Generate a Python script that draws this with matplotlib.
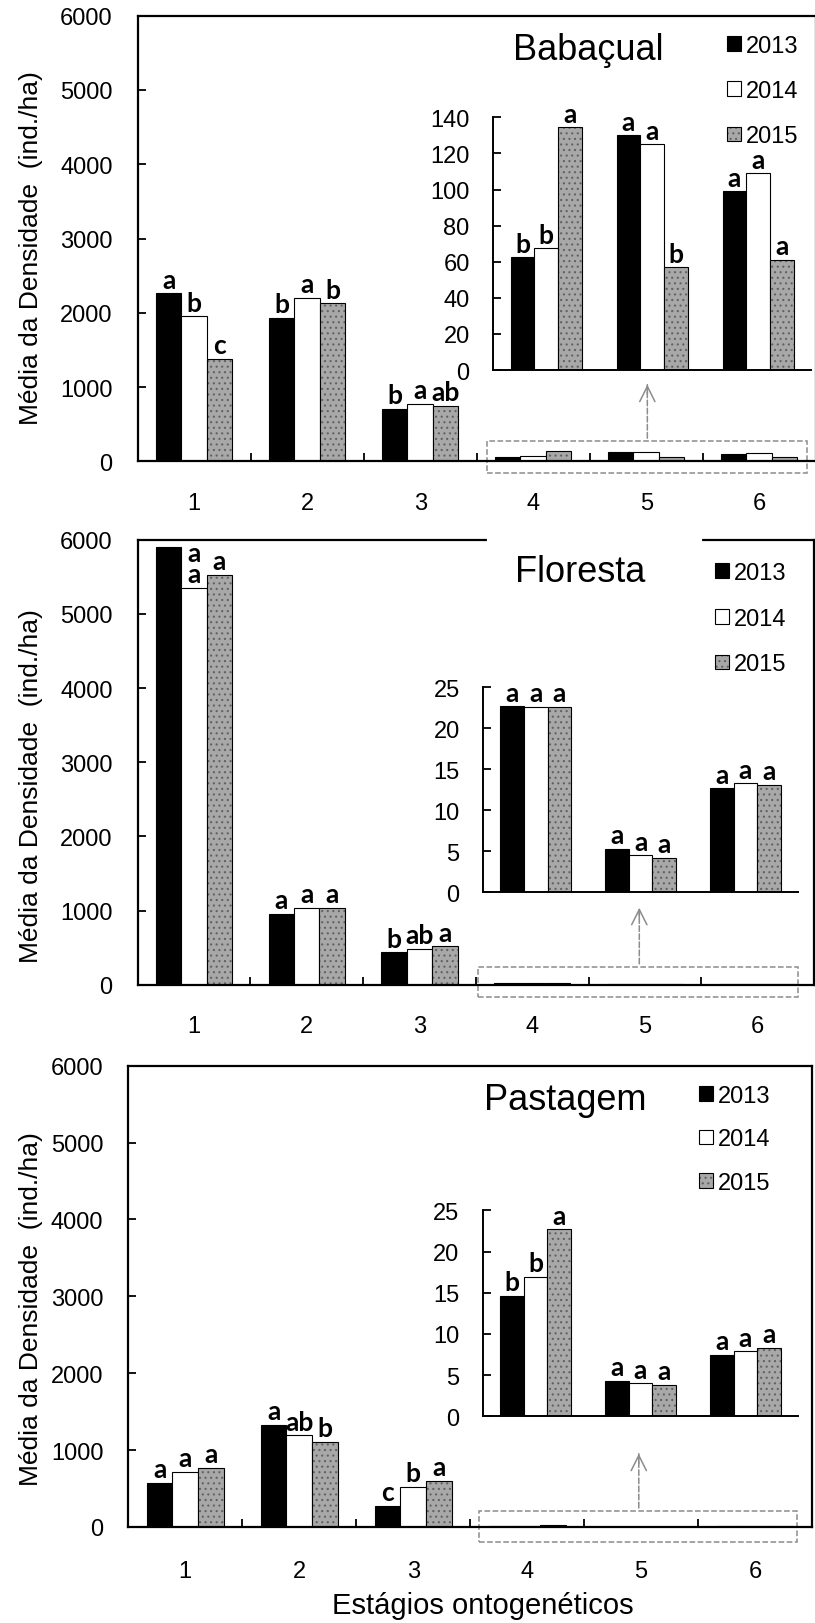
import numpy as np
import matplotlib
matplotlib.use('Agg')
import matplotlib.pyplot as plt
from matplotlib.legend_handler import HandlerTuple

plt.rcParams['font.family'] = ['Liberation Sans', 'DejaVu Sans']
plt.rcParams['hatch.linewidth'] = 0.8

# dados (densidade media, ind./ha)
estagios = ['1', '2', '3', '4', '5', '6']
anos = ['2013', '2014', '2015']

bab_2013 = [2260, 1935, 705, 62.5, 130, 99]
bab_2014 = [1955, 2200, 775, 67.5, 125, 109]
bab_2015 = [1380, 2130, 750, 134.5, 57, 61]
bab_let_2013 = ['a', 'b', 'b', 'b', 'a', 'a']
bab_let_2014 = ['b', 'a', 'a', 'b', 'a', 'a']
bab_let_2015 = ['c', 'b', 'ab', 'a', 'b', 'a']

flo_2013 = [5900, 960, 437, 22.7, 5.3, 12.7]
flo_2014 = [5350, 1035, 482, 22.6, 4.5, 13.3]
flo_2015 = [5530, 1035, 518, 22.6, 4.2, 13.1]
flo_let_2013 = ['a', 'a', 'b', 'a', 'a', 'a']
flo_let_2014 = ['a', 'a', 'ab', 'a', 'a', 'a']
flo_let_2015 = ['a', 'a', 'a', 'a', 'a', 'a']

pas_2013 = [575, 1326, 277, 14.6, 4.3, 7.5]
pas_2014 = [717, 1194, 520, 16.9, 4.0, 7.9]
pas_2015 = [772, 1105, 598, 22.7, 3.8, 8.3]
pas_let_2013 = ['a', 'a', 'c', 'b', 'a', 'a']
pas_let_2014 = ['a', 'ab', 'b', 'b', 'a', 'a']
pas_let_2015 = ['a', 'b', 'a', 'a', 'a', 'a']

W, H = 815, 1624
fig = plt.figure(figsize=(W / 100, H / 100), dpi=100)


def rect(l, t, r, b):
    return [l / W, 1 - b / H, (r - l) / W, (b - t) / H]


LW = 0.8
BW = 0.225
CINZA = '#a8a8a8'
FS = 17


def barras(ax, xs, v13, v14, v15):
    b1 = ax.bar(xs - BW, v13, BW, color='black', edgecolor='black', lw=LW)
    b2 = ax.bar(xs, v14, BW, color='white', edgecolor='black', lw=LW)
    b3a = ax.bar(xs + BW, v15, BW, color=CINZA, edgecolor='#626262', hatch='...', lw=0)
    b3b = ax.bar(xs + BW, v15, BW, fill=False, edgecolor='black', lw=LW)
    return b1, b2, (b3a, b3b)


def letras(ax, xs, vals, lets, desloc=None):
    for k, (v, l) in enumerate(zip(vals, lets)):
        for j in range(3):
            x = xs[k] + (j - 1) * BW
            dy = 4
            if desloc is not None and desloc[0] == (k, j):
                x += desloc[1] * BW
                dy = desloc[2]
            ax.annotate(l[j], (x, v[j]), xytext=(0, dy), textcoords='offset points',
                        ha='center', va='baseline', fontsize=19,
                        family=['Lato', 'DejaVu Sans'], fontweight='bold', clip_on=False)


def painel(main_px, ins_px, ymax_ins, ystep_ins, v13, v14, v15, l13, l14, l15,
           titulo, tit_px, leg_px, leg_sp, box, seta, ylab_y, xpad, desloc=None):
    ax = fig.add_axes(rect(*main_px))
    xs = np.arange(len(estagios)) + 0.5
    hs = barras(ax, xs, v13, v14, v15)
    vals = list(zip(v13[:3], v14[:3], v15[:3]))
    lets = list(zip(l13[:3], l14[:3], l15[:3]))
    letras(ax, xs[:3], vals, lets, desloc)
    ax.set_xlim(0, 6)
    ax.set_ylim(0, 6000)
    ax.set_yticks(np.arange(0, 6001, 1000))
    ax.set_xticks(np.arange(1, 6))
    ax.set_xticklabels([])
    ax.set_xticks(xs, minor=True)
    ax.set_xticklabels(estagios, minor=True)
    ax.tick_params(axis='both', which='major', direction='in', length=5.5, width=1.3,
                   labelsize=FS)
    ax.tick_params(axis='y', pad=18)
    ax.tick_params(axis='x', which='minor', length=0, labelsize=FS, pad=xpad)
    for s in ax.spines.values():
        s.set_linewidth(1.6)

    # caixa tracejada e seta
    x0, x1, y0, y1 = box
    ax.add_patch(plt.Rectangle((x0, y0), x1 - x0, y1 - y0, fill=False, ls='--',
                               ec='#8c8c8c', lw=1.1, clip_on=False))
    ax.annotate('', xy=(seta[0], seta[1]), xytext=(seta[0], y1),
                arrowprops=dict(arrowstyle='-', ls='--', color='#8c8c8c', lw=1.1))
    ax.annotate('', xy=(seta[0], seta[1]), xytext=(seta[0], seta[1] - 200),
                arrowprops=dict(arrowstyle='->,head_length=1.1,head_width=0.55',
                                color='#8c8c8c', lw=1.1))

    fig.text(tit_px[0] / W, 1 - tit_px[1] / H, titulo, fontsize=26,
             ha='center', va='center')
    ax.legend(hs, anos, loc='upper left', frameon=False, fontsize=FS,
              bbox_to_anchor=(leg_px[0] / W, 1 - (leg_px[1] - 14) / H),
              bbox_transform=fig.transFigure, borderpad=0, borderaxespad=0,
              handlelength=0.58, handleheight=0.58, handletextpad=0.2,
              labelspacing=leg_sp, handler_map={tuple: HandlerTuple(ndivide=1)})
    fig.text(31 / W, 1 - ylab_y / H, u'M\u00e9dia da Densidade  (ind./ha)',
             rotation=90, fontsize=19, ha='center', va='center')

    ai = fig.add_axes(rect(*ins_px))
    ai.patch.set_alpha(0)
    xi = np.arange(3) + 0.5
    barras(ai, xi, v13[3:], v14[3:], v15[3:])
    letras(ai, xi, list(zip(v13[3:], v14[3:], v15[3:])), list(zip(l13[3:], l14[3:], l15[3:])))
    ai.set_xlim(0, 3)
    ai.set_ylim(0, ymax_ins)
    ai.set_yticks(np.arange(0, ymax_ins + 0.1, ystep_ins))
    ai.set_xticks([])
    ai.spines['top'].set_visible(False)
    ai.spines['right'].set_visible(False)
    for s in ['left', 'bottom']:
        ai.spines[s].set_linewidth(1.4)
    ai.tick_params(axis='y', direction='in', length=5.5, width=1.3, labelsize=FS, pad=17)
    return ax


painel((137.7, 16.7, 815.7, 462.3), (493.3, 118.3, 811.3, 371), 140, 20,
       bab_2013, bab_2014, bab_2015, bab_let_2013, bab_let_2014, bab_let_2015,
       u'Baba\u00e7ual', (588, 50), (727, 50), 0.98,
       (3.09, 5.92, -152, 274), (4.51, 1070), 248, 22)

ax2 = painel((137.7, 540.7, 814, 985.7), (483.3, 688.3, 798, 893.3), 25, 5,
             flo_2013, flo_2014, flo_2015, flo_let_2013, flo_let_2014, flo_let_2015,
             'Floresta', (580, 573), (715, 577), 1.0,
             (3.02, 5.86, -160, 244), (4.45, 1075), 786, 22,
             desloc=((0, 0), 1, -10))
# trecho da borda superior apagado no original
ax2.plot([0.519, 0.831], [1, 1], transform=ax2.transAxes, color='white', lw=3,
         clip_on=False, zorder=5)

painel((128.3, 1066.7, 812, 1528), (483, 1211.3, 798, 1417.3), 25, 5,
       pas_2013, pas_2014, pas_2015, pas_let_2013, pas_let_2014, pas_let_2015,
       'Pastagem', (565, 1101), (699, 1100), 0.9,
       (3.08, 5.87, -195, 212), (4.48, 990), 1309, 23.5)

fig.text(483 / W, 1 - 1606 / H, u'Est\u00e1gios ontogen\u00e9ticos', fontsize=21,
         ha='center', va='center')

fig.savefig('out.png', dpi=100)
